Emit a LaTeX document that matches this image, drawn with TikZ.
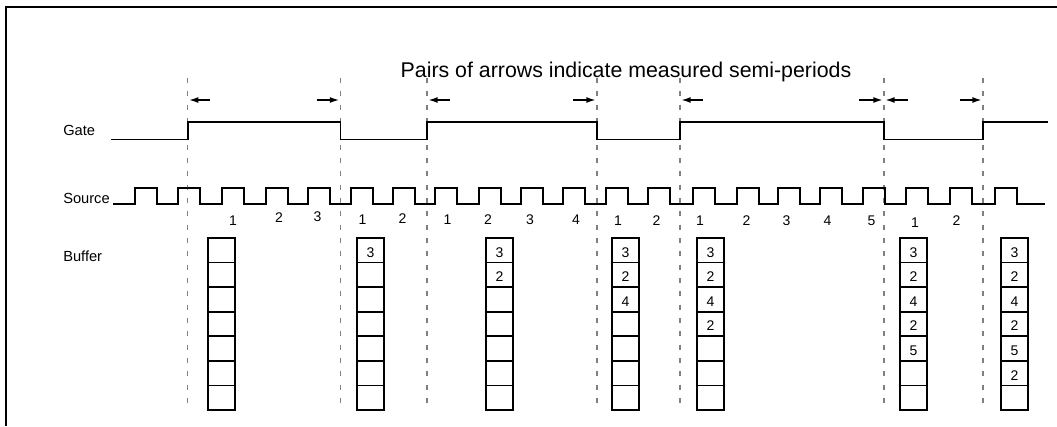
\documentclass[tikz,border=0pt]{standalone}
\usepackage{fontspec}
\setmainfont{Liberation Sans}
\usetikzlibrary{arrows.meta}

\begin{document}
\begin{tikzpicture}[x=0.75pt, y=-0.75pt,
        signal/.style={black, line width=1.3pt},
        marker/.style={gray, line width=0.9pt, dash pattern=on 3.75pt off 6.25pt},
        meas/.style={-{Latex[length=7pt,width=4.5pt]}, line width=1.1pt, shorten >=1pt},
        cell/.style={draw, line width=1.3pt, minimum width=20.25pt, minimum height=18.43pt, inner sep=0pt},
        lbl/.style={font=\fontsize{10.5}{12}\selectfont, inner sep=0pt},
        row/.style={font=\fontsize{11}{13}\selectfont, inner sep=0pt, anchor=west}]
            \useasboundingbox (0,0) rectangle (1057,426);

            \draw[line width=1.4pt] (6,426) -- (6,7) -- (1057,7);

            \node[font=\fontsize{16}{19}\selectfont, inner sep=0pt] (title) at (626,72) {Pairs of arrows indicate measured semi-periods};

            \node[row] (gate) at (63,130) {Gate};
            \node[row] (source) at (63,198) {Source};
            \node[row] (buffer) at (63,256) {Buffer};

            \foreach \t [count=\i] in {187.7,340.5,427,597,680,884,983} {
                \draw[marker] (\t,78) -- (\t,409);
                \coordinate (t\i) at (\t,100);
            }

            \draw[meas] ([xshift=16.5pt]t1) -- (t1);
            \draw[meas] ([xshift=-18pt]t2) -- (t2);
            \draw[meas] ([xshift=17pt]t3) -- (t3);
            \draw[meas] ([xshift=-18pt]t4) -- (t4);
            \draw[meas] ([xshift=17pt]t5) -- (t5);
            \draw[meas] ([xshift=-18.5pt]t6) -- (t6);
            \draw[meas] ([xshift=18pt]t6) -- (t6);
            \draw[meas] ([xshift=-17pt]t7) -- (t7);

            \draw[signal] (111,139.5) -- (187.7,139.5) -- (187.7,122) -- (340.5,122) -- (340.5,139.5)
                -- (427,139.5) -- (427,122) -- (597,122) -- (597,139.5) -- (680,139.5) -- (680,122)
                -- (884,122) -- (884,139.5) -- (983,139.5) -- (983,122) -- (1048,122);

            \draw[signal] (113,204)
                \foreach \r in {135,178,222,266,308,351,393,435,479,521,563,606,648,693,737,778,820,863,906,950,995} {
                    -- (\r,204) -- (\r,187.7) -- (\r+22,187.7) -- (\r+22,204)
                } -- (1045,204);

            \node[lbl] (n11) at (233,221) {1};
            \node[lbl] (n12) at (279,217.5) {2};
            \node[lbl] (n13) at (317.5,217) {3};
            \node[lbl] (n21) at (362.5,219.5) {1};
            \node[lbl] (n22) at (402.5,219) {2};
            \node[lbl] (n31) at (447.5,220) {1};
            \node[lbl] (n32) at (488,219.5) {2};
            \node[lbl] (n33) at (530,219.5) {3};
            \node[lbl] (n34) at (576,219.5) {4};
            \node[lbl] (n41) at (618,221) {1};
            \node[lbl] (n42) at (656.5,220.5) {2};
            \node[lbl] (n51) at (700,221) {1};
            \node[lbl] (n52) at (746.5,221) {2};
            \node[lbl] (n53) at (786.5,221) {3};
            \node[lbl] (n54) at (827.5,221) {4};
            \node[lbl] (n55) at (871.5,220.5) {5};
            \node[lbl] (n61) at (915,223) {1};
            \node[lbl] (n62) at (956.5,221) {2};

            \foreach \bx [count=\b] in {208,357,486,612,697,900,1001}
                \foreach \r in {1,...,7}
                    \node[cell] (b\b-\r) at (\bx+13.5,238+24.57*\r-12.285) {};

            \node[lbl] (v21) at ([yshift=-1.5pt]b2-1) {3};
            \node[lbl] (v31) at ([yshift=-1.5pt]b3-1) {3};
            \node[lbl] (v32) at ([yshift=-1.5pt]b3-2) {2};
            \node[lbl] (v41) at ([yshift=-1.5pt]b4-1) {3};
            \node[lbl] (v42) at ([yshift=-1.5pt]b4-2) {2};
            \node[lbl] (v43) at ([yshift=-1.5pt]b4-3) {4};
            \node[lbl] (v51) at ([yshift=-1.5pt]b5-1) {3};
            \node[lbl] (v52) at ([yshift=-1.5pt]b5-2) {2};
            \node[lbl] (v53) at ([yshift=-1.5pt]b5-3) {4};
            \node[lbl] (v54) at ([yshift=-1.5pt]b5-4) {2};
            \node[lbl] (v61) at ([yshift=-1.5pt]b6-1) {3};
            \node[lbl] (v62) at ([yshift=-1.5pt]b6-2) {2};
            \node[lbl] (v63) at ([yshift=-1.5pt]b6-3) {4};
            \node[lbl] (v64) at ([yshift=-1.5pt]b6-4) {2};
            \node[lbl] (v65) at ([yshift=-1.5pt]b6-5) {5};
            \node[lbl] (v71) at ([yshift=-1.5pt]b7-1) {3};
            \node[lbl] (v72) at ([yshift=-1.5pt]b7-2) {2};
            \node[lbl] (v73) at ([yshift=-1.5pt]b7-3) {4};
            \node[lbl] (v74) at ([yshift=-1.5pt]b7-4) {2};
            \node[lbl] (v75) at ([yshift=-1.5pt]b7-5) {5};
            \node[lbl] (v76) at ([yshift=-1.5pt]b7-6) {2};
        \end{tikzpicture}
\end{document}
